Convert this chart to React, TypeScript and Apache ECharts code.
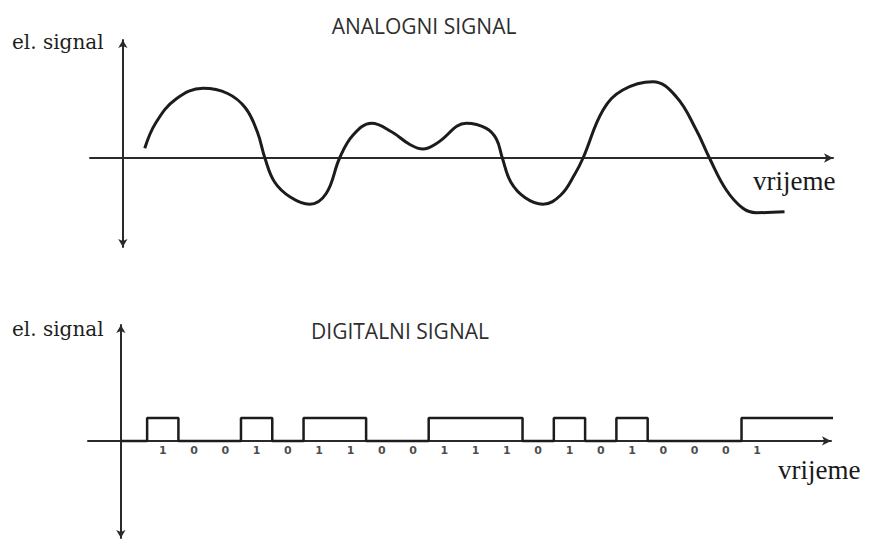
import { useEffect, useRef } from "react";
import * as echarts from "echarts";

// Analog signal: [time, amplitude]
const analogSignal: [number, number][] = [
  [0.7, 0.97], [1.05, 3.5], [1.7, 5.9], [2.57, 6.97], [3.35, 6.45], [3.92, 5.0],
  [4.3, 2.6], [4.54, 0], [4.85, -2.4], [5.35, -3.9], [5.97, -4.63], [6.5, -3.55],
  [6.93, 0], [7.36, 2.3], [7.95, 3.47], [8.6, 2.6], [9.15, 1.4], [9.59, 0.9],
  [10.05, 1.5], [10.98, 3.47], [11.62, 2.97], [11.94, 1.9], [12.13, 0], [12.4, -2.4],
  [12.85, -3.95], [13.43, -4.63], [14.0, -3.7], [14.45, -1.6], [14.71, 0], [15.35, 4.8],
  [15.98, 6.8], [16.94, 7.63], [17.69, 6.13], [18.33, 2.8], [18.75, 0], [19.29, -3.2],
  [19.82, -5.03], [20.25, -5.47], [21.15, -5.37],
];

// Digital signal bits
const bits = [1, 0, 0, 1, 0, 1, 1, 0, 0, 1, 1, 1, 0, 1, 0, 1, 0, 0, 0, 1];
const bitStart = 0.84;
const bitWidth = 1;
const signalEnd = 22.88;
const highLevel = 1;

const titles = ["ANALOGNI SIGNAL", "DIGITALNI SIGNAL"];
const yName = "el. signal";
const xName = "vrijeme";

function buildDigital(): [number, number][] {
  const pts: [number, number][] = [[0, 0]];
  let prev = 0;
  bits.forEach((b, k) => {
    const x0 = bitStart + k * bitWidth;
    const v = b ? highLevel : 0;
    if (v !== prev) {
      pts.push([x0, prev], [x0, v]);
      prev = v;
    }
  });
  pts.push([signalEnd, prev]);
  return pts;
}

export default function App() {
  const ref = useRef<HTMLDivElement>(null);
  useEffect(() => {
    if (!ref.current) return;
    const chart = echarts.init(ref.current, null, { renderer: "svg" });
    const axisColor = "#2a2a2a";
    const lineColor = "#1c1c1c";
    const xAxisBase = {
      type: "value" as const,
      min: -1.05,
      max: 22.7,
      axisLine: {
        onZero: true,
        lineStyle: { color: axisColor, width: 2 },
        symbol: ["none", "arrow"],
        symbolSize: [7, 9],
      },
      axisTick: { show: false },
      axisLabel: { show: false },
      splitLine: { show: false },
    };
    const yAxisBase = {
      type: "value" as const,
      axisLine: {
        onZero: true,
        lineStyle: { color: axisColor, width: 2 },
        symbol: ["arrow", "arrow"],
        symbolSize: [7, 8],
      },
      axisTick: { show: false },
      axisLabel: { show: false },
      splitLine: { show: false },
    };
    const serif = "'DejaVu Serif', serif";
    const times = "'Liberation Serif', 'Times New Roman', serif";
    const sans = "'Open Sans', sans-serif";
    chart.setOption({
      animation: false,
      backgroundColor: "#ffffff",
      grid: [
        { left: 90, top: 40, width: 743, height: 207 },
        { left: 88, top: 325, width: 743, height: 213 },
      ],
      xAxis: [
        { ...xAxisBase, gridIndex: 0 },
        { ...xAxisBase, gridIndex: 1 },
      ],
      yAxis: [
        { ...yAxisBase, gridIndex: 0, min: -8.9, max: 11.8 },
        { ...yAxisBase, gridIndex: 1, min: -4.22, max: 5.04 },
      ],
      series: [
        {
          type: "line",
          xAxisIndex: 0,
          yAxisIndex: 0,
          data: analogSignal,
          smooth: 0.4,
          showSymbol: false,
          lineStyle: { color: lineColor, width: 3 },
        },
        {
          type: "line",
          xAxisIndex: 1,
          yAxisIndex: 1,
          data: buildDigital(),
          showSymbol: false,
          clip: false,
          lineStyle: { color: lineColor, width: 2.5 },
        },
        {
          type: "scatter",
          xAxisIndex: 1,
          yAxisIndex: 1,
          symbolSize: 0,
          data: bits.map((b, k) => [bitStart + (k + 0.5) * bitWidth, 0, b]),
          label: {
            show: true,
            position: "inside",
            offset: [0, 10],
            formatter: (p: any) => String(p.value[2]),
            fontFamily: "'DejaVu Sans', sans-serif",
            fontWeight: "bold",
            fontSize: 11,
            color: "#1a1a1a",
          },
        },
      ],
      graphic: [
        {
          type: "text",
          x: 424,
          y: 26,
          style: { text: titles[0], font: `21px ${sans}`, fill: "#2e2e2e", align: "center", verticalAlign: "middle" },
        },
        {
          type: "text",
          x: 400,
          y: 331,
          style: { text: titles[1], font: `21px ${sans}`, fill: "#2e2e2e", align: "center", verticalAlign: "middle" },
        },
        {
          type: "text",
          x: 12,
          y: 42,
          style: { text: yName, font: `20px ${serif}`, fill: "#1e1e1e", align: "left", verticalAlign: "middle" },
        },
        {
          type: "text",
          x: 12,
          y: 329,
          style: { text: yName, font: `20px ${serif}`, fill: "#1e1e1e", align: "left", verticalAlign: "middle" },
        },
        {
          type: "text",
          x: 753,
          y: 181,
          style: { text: xName, font: `27px ${times}`, fill: "#1a1a1a", align: "left", verticalAlign: "middle" },
        },
        {
          type: "text",
          x: 778,
          y: 470,
          style: { text: xName, font: `27px ${times}`, fill: "#1a1a1a", align: "left", verticalAlign: "middle" },
        },
      ],
    });
    return () => chart.dispose();
  }, []);
  return (
    <div
      ref={ref}
      style={{ position: "fixed", left: 0, top: 0, width: 869, height: 540, background: "#fff" }}
    />
  );
}
